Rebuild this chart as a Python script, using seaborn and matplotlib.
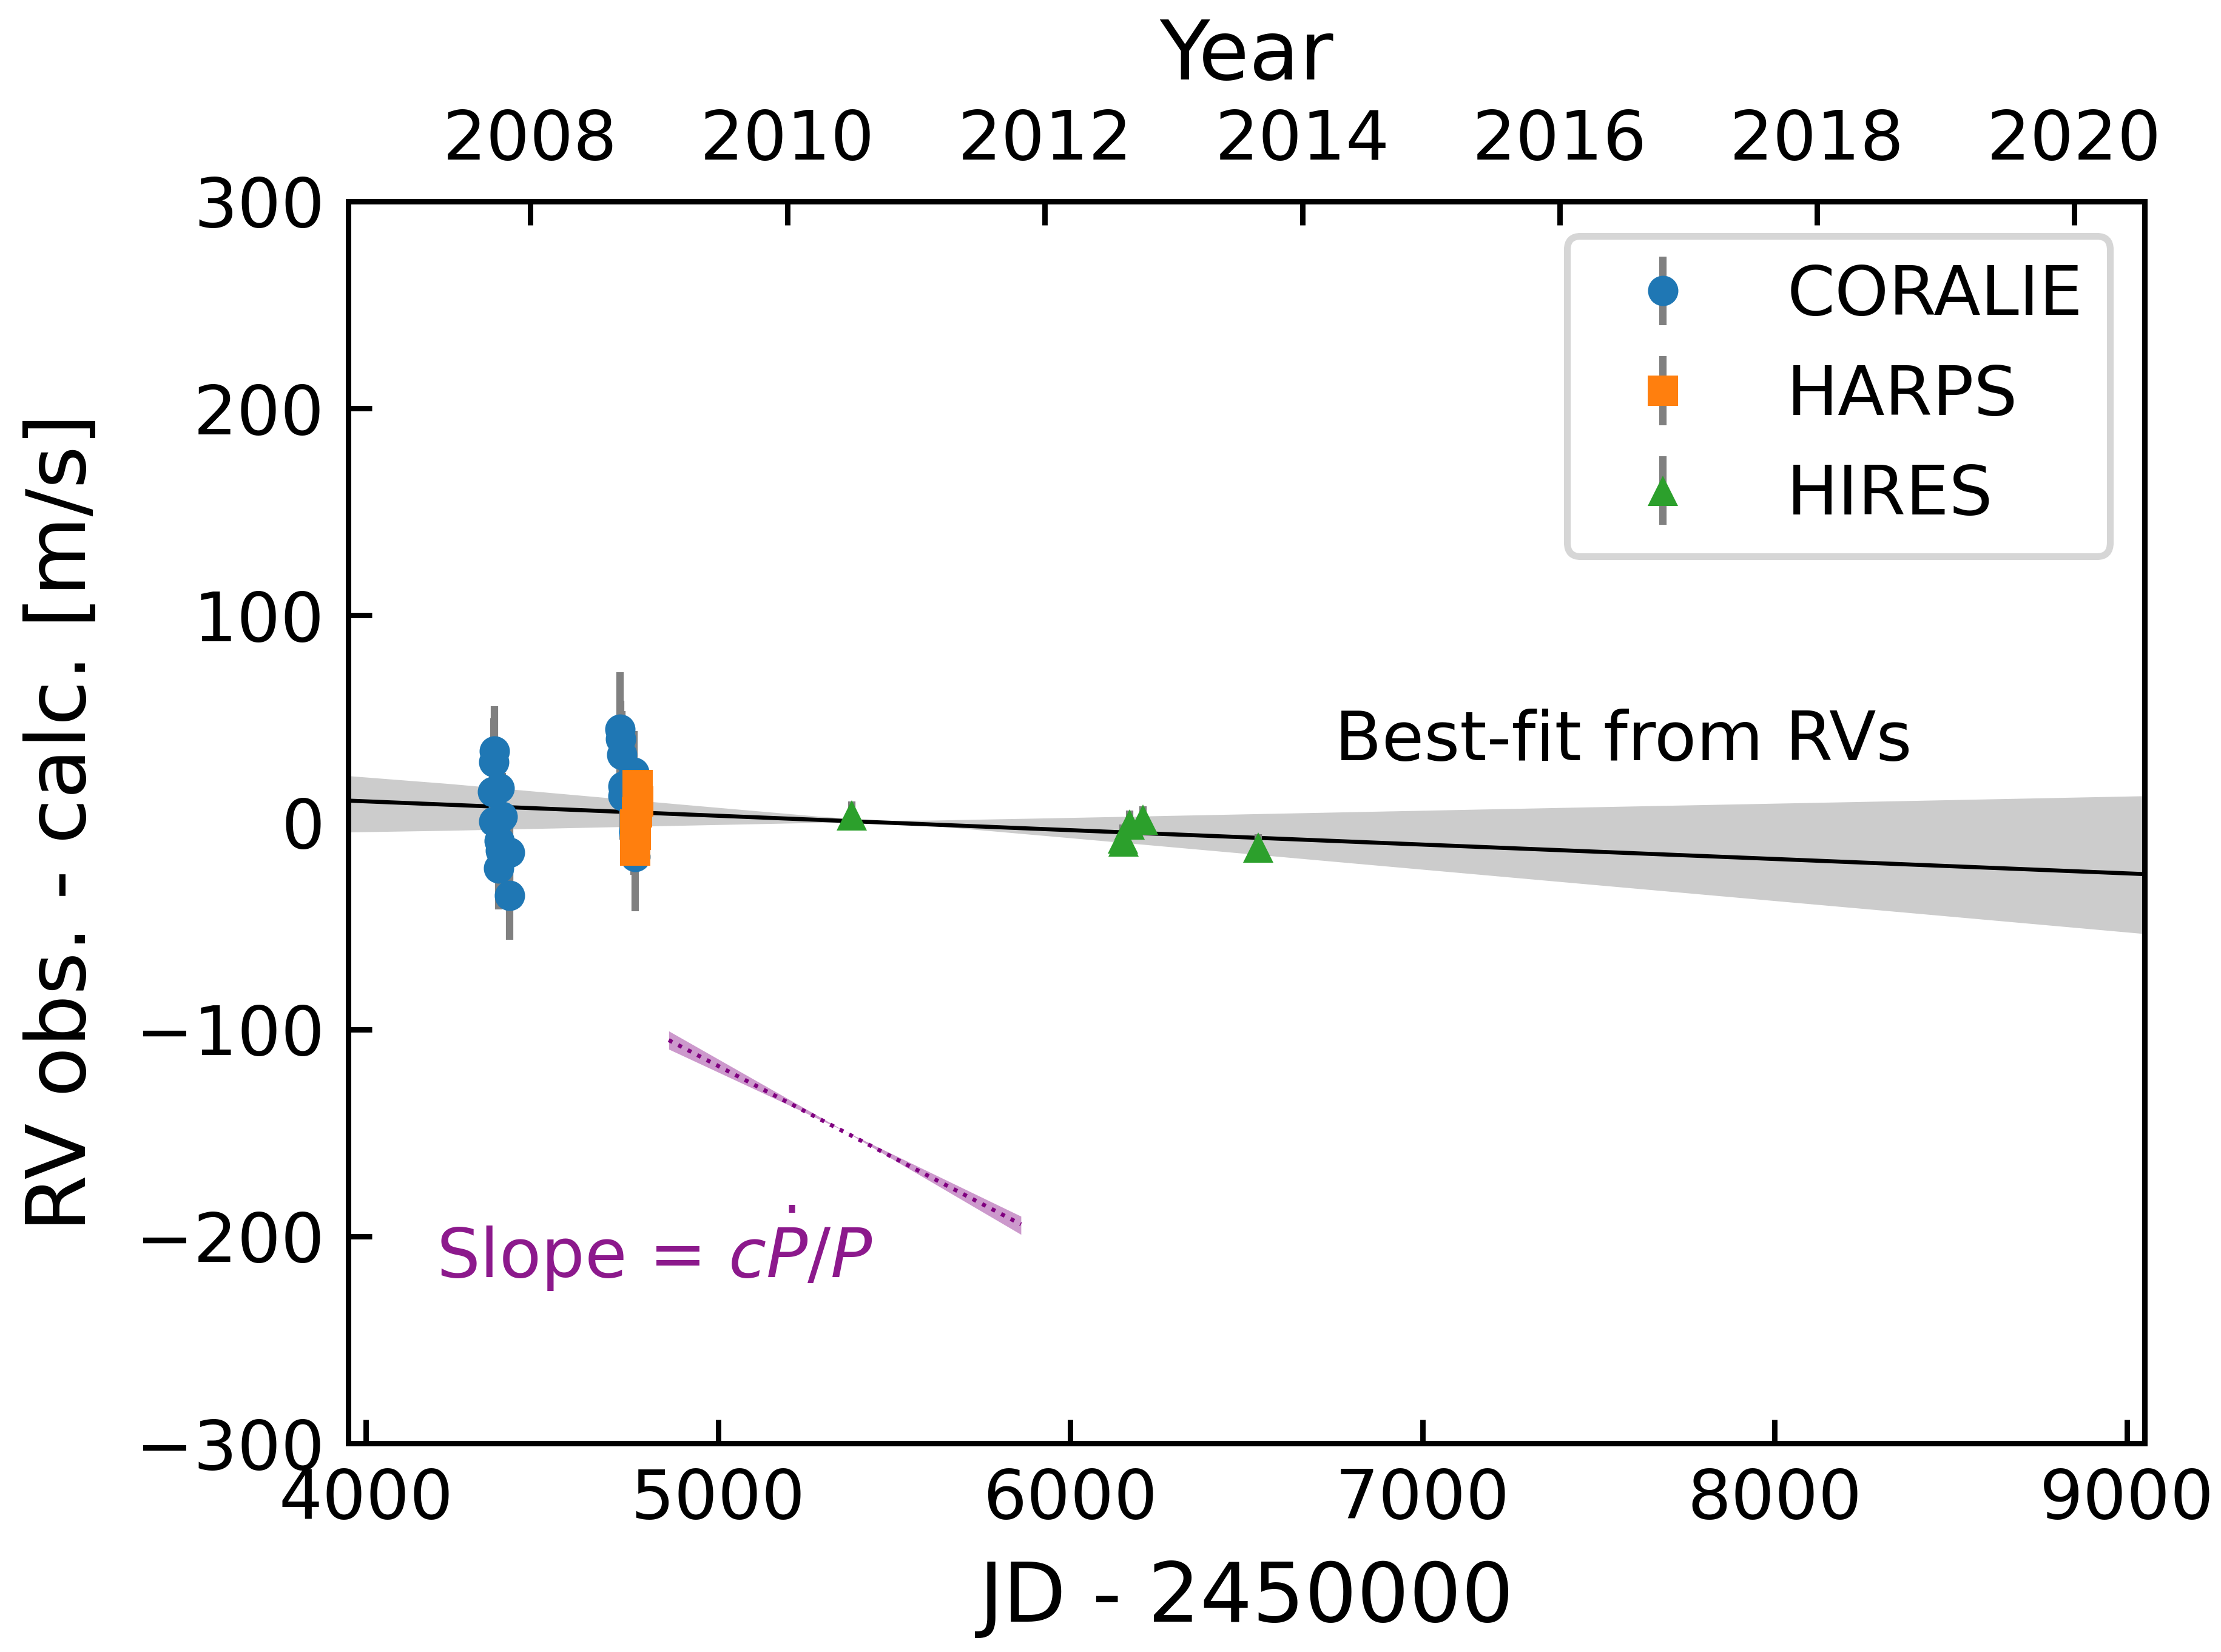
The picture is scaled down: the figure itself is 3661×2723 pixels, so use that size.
import numpy as np
import pandas as pd
import matplotlib
matplotlib.use("Agg")
import matplotlib.pyplot as plt
import seaborn as sns

# ---------------- data ----------------
coralie_t = [4365, 4364, 4379, 4360, 4363, 4387, 4379, 4383, 4409, 4377, 4408,
             4721, 4723, 4726, 4762, 4731, 4731, 4761, 4764]
coralie_rv = [34.4, 29.3, 16.6, 14.9, 0.4, 2.9, -9.0, -13.7, -14.5, -22.0, -35.2,
              45.0, 40.4, 32.7, 24.2, 17.3, 12.7, -4.4, -16.5]
coralie_err = [21.8, 21.0, 21.0, 21.0, 21.0, 21.0, 21.0, 21.0, 21.0, 20.0, 21.5,
               27.4, 18.3, 21.0, 19.8, 21.0, 21.0, 21.0, 26.5]

harps_t = [4771, 4774, 4770, 4764, 4767, 4764]
harps_rv = [18.1, 10.2, 4.9, -1.0, -5.9, -13.7]
harps_err = [2.5, 2.5, 2.5, 2.5, 2.5, 2.5]

hires_t = [5379, 6168, 6207, 6150, 6152, 6533]
hires_rv = [3.5, -1.1, 1.3, -7.9, -9.2, -12.2]
hires_err = [6.7, 6.8, 6.5, 7.0, 7.0, 6.5]

# best-fit trend from RVs and its band
fit_t = [3950, 9050]
fit_rv = [10.5, -25.0]
band_t = [3950, 4236, 4890, 5287, 5450, 5600, 6000, 6664, 7500, 8300, 9050]
band_hi = [22.5, 18.7, 8.8, 2.9, 0.9, 1.0, 2.3, 4.6, 7.5, 10.2, 12.8]
band_lo = [-4.7, -3.9, -1.5, -0.1, 0.2, -1.5, -7.5, -17.6, -30.3, -42.4, -53.8]

# expected slope c*Pdot/P
slope_t = [4860, 5860]
slope_rv = [-105.2, -194.2]
slope_band_t = [4860, 5360, 5860]
slope_band_hi = [-100.8, -149.2, -190.3]
slope_band_lo = [-109.6, -149.2, -199.1]

years = [2008, 2010, 2012, 2014, 2016, 2018, 2020]
xlim = (3950, 9050)
ylim = (-300, 300)
xticks = [4000, 5000, 6000, 7000, 8000, 9000]
yticks = [-300, -200, -100, 0, 100, 200, 300]

# ---------------- style ----------------
sns.set_style("ticks", {"xtick.direction": "in", "ytick.direction": "in",
                        "axes.edgecolor": "black", "text.color": "black",
                        "xtick.color": "black", "ytick.color": "black",
                        "axes.labelcolor": "black"})
plt.rcParams['font.family'] = ['DejaVu Sans']
plt.rcParams['mathtext.fontset'] = 'dejavusans'
plt.rcParams['axes.linewidth'] = 0.8

TICK_FS = 10.2
LABEL_FS = 12.2

W, H, DPI = 3661, 2723, 800
fig = plt.figure(figsize=(W / DPI, H / DPI), dpi=DPI)
ax = fig.add_axes([574 / W, 1 - 2379 / H, (3535 - 574) / W, (2379 - 332) / H])

# band + best fit line
ax.fill_between(band_t, band_lo, band_hi, color='0.8', lw=0, zorder=1)
sns.lineplot(x=fit_t, y=fit_rv, color='black', lw=0.6, ax=ax, zorder=2,
             legend=False)

# slope indicator
ax.fill_between(slope_band_t, slope_band_lo, slope_band_hi, color='purple',
                alpha=0.4, lw=0, zorder=1)
sns.lineplot(x=slope_t, y=slope_rv, color='purple', lw=0.6, ls=':', ax=ax,
             zorder=2, legend=False)

# data
common = dict(ecolor='gray', elinewidth=1.1, capsize=0, ms=4.5, mew=0, ls='none')
ax.errorbar(coralie_t, coralie_rv, yerr=coralie_err, fmt='o', color='#1f77b4',
            label='CORALIE', zorder=3, **common)
ax.errorbar(harps_t, harps_rv, yerr=harps_err, fmt='s', color='#ff7f0e',
            label='HARPS', zorder=4, **common)
ax.errorbar(hires_t, hires_rv, yerr=hires_err, fmt='^', color='#2ca02c',
            label='HIRES', zorder=5, **common)

ax.text(6750, 30, 'Best-fit from RVs', fontsize=TICK_FS, ha='left',
        va='baseline', color='black')
ax.text(4200, -220, r'Slope = $c\dot{P}/P$', fontsize=TICK_FS, ha='left',
        va='baseline', color='purple', alpha=0.9)

ax.set_xlim(*xlim)
ax.set_ylim(*ylim)
ax.set_xticks(xticks)
ax.set_yticks(yticks)
ax.tick_params(axis='both', direction='in', length=3.5, width=0.8,
               labelsize=TICK_FS, top=False, right=False)
ax.set_xlabel('JD - 2450000', fontsize=LABEL_FS, labelpad=4)
ax.set_ylabel('RV obs. - calc. [m/s]', fontsize=LABEL_FS, labelpad=5)

ax.legend(loc='upper right', fontsize=TICK_FS)

# top axis in years
ax2 = ax.twiny()
ax2.set_xlim(*xlim)
year_jd = [1545.0 + (y - 2000) * 365.25 for y in years]
ax2.set_xticks(year_jd)
ax2.set_xticklabels([str(y) for y in years])
ax2.tick_params(axis='x', direction='in', length=3.5, width=0.8,
                labelsize=TICK_FS, pad=4.1)
ax2.set_xlabel('Year', fontsize=LABEL_FS, labelpad=4.3)

fig.savefig('out.png', dpi=DPI)
